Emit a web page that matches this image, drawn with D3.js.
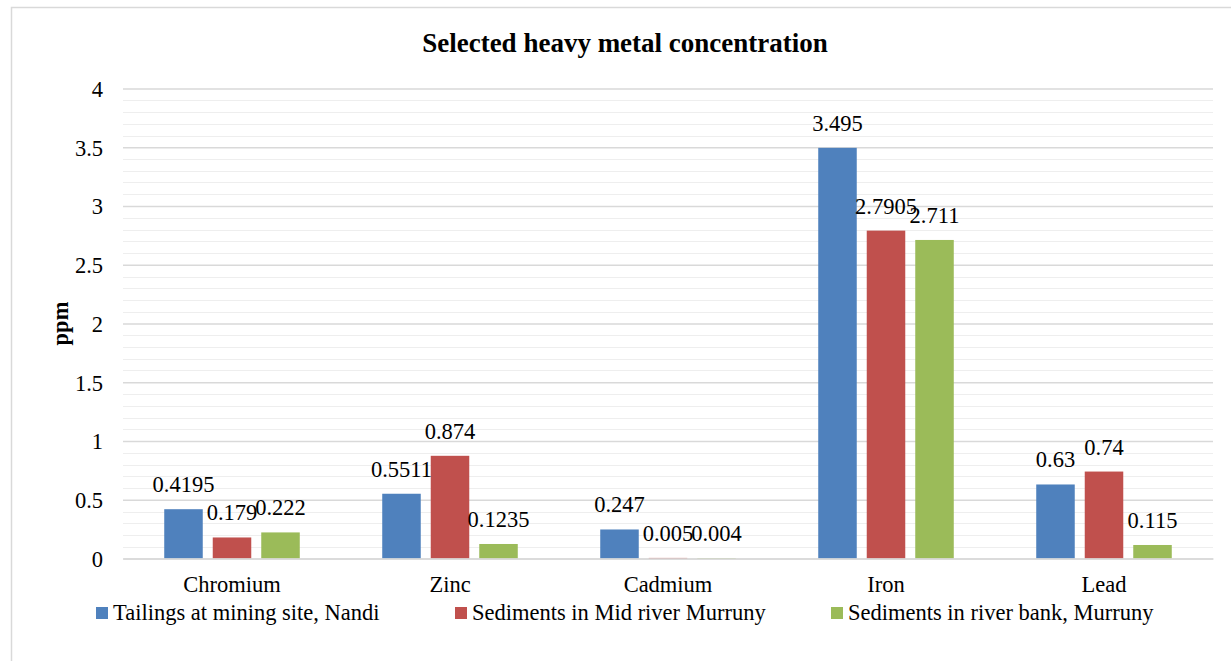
<!DOCTYPE html>
<html>
<head>
<meta charset="utf-8">
<script src="https://cdn.jsdelivr.net/npm/d3@7/dist/d3.min.js"></script>
<style>
  html, body { margin: 0; padding: 0; background: #ffffff; }
  svg { display: block; font-family: "Liberation Serif", "Times New Roman", serif; }
</style>
</head>
<body>
<svg id="chart" width="1231" height="661"></svg>
<script>
// Metals measured
const categories = ["Chromium", "Zinc", "Cadmium", "Iron", "Lead"];

// Sampling locations (series)
const seriesNames = [
  "Tailings at mining site, Nandi",
  "Sediments in Mid river Murruny",
  "Sediments in river bank, Murruny"
];
const seriesColors = ["#4F81BD", "#C0504D", "#9BBB59"];

// Concentrations (ppm) per series, in category order
const tailingsNandi   = [0.4195, 0.5511, 0.247, 3.495, 0.63];
const midRiverMurruny = [0.179, 0.874, 0.005, 2.7905, 0.74];
const riverBankMurruny = [0.222, 0.1235, 0.004, 2.711, 0.115];

// Axis ticks
const yTicks = [0, 0.5, 1, 1.5, 2, 2.5, 3, 3.5, 4];
const yMinorTicks = d3.range(0, 41).map(i => i / 10);

const seriesValues = [tailingsNandi, midRiverMurruny, riverBankMurruny];
const rows = categories.map((c, i) => ({
  category: c,
  values: seriesNames.map((s, j) => ({ series: s, idx: j, value: seriesValues[j][i] }))
}));

const svg = d3.select("#chart");

// Outer chart frame
svg.append("rect")
  .attr("x", 11.5).attr("y", 7.5)
  .attr("width", 1260).attr("height", 700)
  .attr("fill", "none").attr("stroke", "#d9d9d9").attr("stroke-width", 1.5);

const plot = { left: 123, right: 1213, top: 88.5, bottom: 558.5 };

const y = d3.scaleLinear().domain([0, 4]).range([plot.bottom, plot.top]);
const x0 = d3.scaleBand().domain(categories).range([plot.left, plot.right]).padding(0);
const x1 = d3.scaleBand().domain(seriesNames).range([0, x0.bandwidth()])
  .paddingInner(0.206).paddingOuter(0.85);

// Minor gridlines
svg.append("g").selectAll("line")
  .data(yMinorTicks.filter(v => Math.round(v * 10) % 5 !== 0))
  .join("line")
  .attr("x1", plot.left).attr("x2", plot.right)
  .attr("y1", d => Math.round(y(d)) + 0.5).attr("y2", d => Math.round(y(d)) + 0.5)
  .attr("stroke", "#eeeeee").attr("stroke-width", 1.2);

// Major gridlines + tick labels via axis
const yAxis = d3.axisLeft(y).tickValues(yTicks).tickFormat(d3.format("")).tickSize(plot.left - plot.right).tickPadding(20);
const yg = svg.append("g").attr("transform", `translate(${plot.left},0)`).call(yAxis);
yg.select(".domain").remove();
yg.selectAll(".tick line").attr("stroke", "#d9d9d9").attr("stroke-width", 1.5);
yg.selectAll(".tick text")
  .attr("font-size", "22.5px").attr("fill", "#000").attr("dy", "0.35em")
  .attr("font-family", "'Liberation Serif', 'Times New Roman', serif");

// Bars
const groups = svg.append("g").selectAll("g")
  .data(rows).join("g")
  .attr("transform", d => `translate(${x0(d.category)},0)`);

groups.selectAll("rect")
  .data(d => d.values).join("rect")
  .attr("x", d => x1(d.series))
  .attr("width", x1.bandwidth())
  .attr("y", d => y(d.value))
  .attr("height", d => y(0) - y(d.value))
  .attr("fill", d => seriesColors[d.idx]);

// Value labels
groups.selectAll("text")
  .data(d => d.values).join("text")
  .attr("x", d => x1(d.series) + x1.bandwidth() / 2)
  .attr("y", d => y(d.value) - 17)
  .attr("text-anchor", "middle")
  .attr("font-size", "22.5px").attr("fill", "#000")
  .text(d => String(d.value));

// Category axis labels
const xAxis = d3.axisBottom(x0).tickSize(0).tickPadding(0);
const xg = svg.append("g").attr("transform", `translate(0,${plot.bottom})`).call(xAxis);
xg.select(".domain").attr("stroke", "#d9d9d9").attr("stroke-width", 1.5);
xg.selectAll(".tick text")
  .attr("font-size", "22.5px").attr("fill", "#000")
  .attr("font-family", "'Liberation Serif', 'Times New Roman', serif")
  .attr("dy", null).attr("y", 33);

// Title
svg.append("text")
  .attr("x", 625).attr("y", 52)
  .attr("text-anchor", "middle")
  .attr("font-size", "27px").attr("font-weight", "bold")
  .text("Selected heavy metal concentration");

// Y axis title
svg.append("text")
  .attr("transform", `translate(68,${(plot.top + plot.bottom) / 2}) rotate(-90)`)
  .attr("text-anchor", "middle")
  .attr("font-size", "22.5px").attr("font-weight", "bold")
  .text("ppm");

// Legend
const legendX = [96, 455, 831];
const legend = svg.append("g").selectAll("g")
  .data(seriesNames).join("g")
  .attr("transform", (d, i) => `translate(${legendX[i]},0)`);
legend.append("rect")
  .attr("x", 0).attr("y", 607).attr("width", 12).attr("height", 12)
  .attr("fill", (d, i) => seriesColors[i]);
legend.append("text")
  .attr("x", 17).attr("y", 620)
  .attr("font-size", "22.5px").attr("fill", "#000")
  .text(d => d);
</script>
</body>
</html>
